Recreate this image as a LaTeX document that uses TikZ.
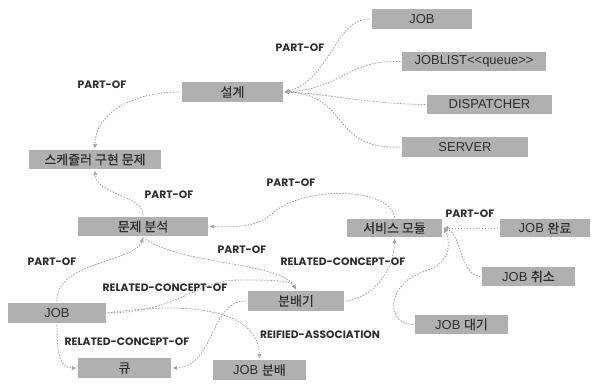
\documentclass[tikz,border=0pt]{standalone}
\usepackage{fontspec}
\setmainfont{Liberation Sans}
\newfontfamily\kr[FakeBold=0.4]{Noto Sans CJK KR}
\newfontfamily\labfont{Poppins}
\usetikzlibrary{arrows.meta,shadows}
\definecolor{boxgray}{HTML}{B0B0B0}
\definecolor{txt}{HTML}{2E2E2E}
\definecolor{conncol}{HTML}{A5A5A5}
\tikzset{
 cbox/.style={rectangle, fill=boxgray, draw=gray!35, double=white, double distance=2.2bp, line width=0.4bp, inner sep=0pt, text=txt, font=\fontsize{13}{15}\selectfont, drop shadow={shadow xshift=0.8bp, shadow yshift=-1.2bp, opacity=0.2, fill=black}},
 lab/.style={text=txt, font=\labfont\bfseries\fontsize{10.8}{12}\selectfont, inner sep=0pt},
 conn/.style={draw=conncol, line width=0.8bp, dash pattern=on 1.6bp off 1.4bp, -{Triangle[length=4.5bp,width=4bp]}},
}
\begin{document}
\begin{tikzpicture}[x=1bp,y=-1bp]
\fill[white] (0,0) rectangle (595,386);
\useasboundingbox (0,0) rectangle (595,386);
% boxes
\node[cbox, minimum width=103bp, minimum height=23bp] (jobt) at (422,19) {JOB};
\node[cbox, minimum width=147bp, minimum height=22bp] (joblist) at (474,61.5) {JOBLIST<{}<queue>{}>};
\node[cbox, minimum width=128bp, minimum height=22bp] (disp) at (489.5,104.5) {DISPATCHER};
\node[cbox, minimum width=129bp, minimum height=23bp] (server) at (465,147) {SERVER};
\node[cbox, minimum width=104bp, minimum height=23bp] (design) at (232.5,92) {\kr 설계};
\node[cbox, minimum width=135bp, minimum height=22bp] (sched) at (95,159.5) {\kr 스케쥴러 구현 문제};
\node[cbox, minimum width=133bp, minimum height=22bp] (anal) at (143,226.5) {\kr 문제 분석};
\node[cbox, minimum width=98bp, minimum height=21bp] (serv) at (394.5,228) {\kr 서비스 모듈};
\node[cbox, minimum width=93bp, minimum height=21bp] (jdone) at (545,228) {JOB {\kr 완료}};
\node[cbox, minimum width=96bp, minimum height=22bp] (jcancel) at (528.5,276.5) {JOB {\kr 취소}};
\node[cbox, minimum width=96bp, minimum height=22bp] (jwait) at (461.5,324.5) {JOB {\kr 대기}};
\node[cbox, minimum width=99bp, minimum height=23bp] (dist) at (296,301) {\kr 분배기};
\node[cbox, minimum width=101bp, minimum height=23bp] (jobb) at (57,313) {JOB};
\node[cbox, minimum width=96bp, minimum height=23bp] (queue) at (124.5,368) {\kr 큐};
\node[cbox, minimum width=96bp, minimum height=23bp] (jdist) at (259.5,370) {JOB {\kr 분배}};
% connectors
\draw[conn] (jobt.west) .. controls (335,18) and (330,80) .. (design.east);
\draw[conn] (joblist.west) .. controls (345,60) and (345,88) .. (design.east);
\draw[conn] (disp.west) .. controls (370,104) and (320,93) .. (design.east);
\draw[conn] (server.west) .. controls (330,150) and (350,95) .. (design.east);
\draw[conn] (design.west) .. controls (130,92) and (95,115) .. (sched.north);
\draw[conn] (anal.north) .. controls (143,195) and (97,195) .. (sched.south);
\draw[conn] (serv.north) .. controls (390,186) and (300,186) .. (272,214) .. controls (255,228) and (235,227) .. (anal.east);
\draw[conn] (jobb.north) .. controls (55,262) and (135,262) .. (anal.south);
\draw[conn] (anal.south) .. controls (180,265) and (280,262) .. (dist.north);
\draw[conn] (jobb.east) .. controls (180,312) and (195,280) .. (240,280) .. controls (270,280) and (290,280) .. (dist.north);
\draw[conn] (jobb.east) .. controls (195,300) and (258,312) .. (jdist.north);
\draw[conn] (dist.west) .. controls (210,300) and (215,366) .. (queue.east);
\draw[conn] (jobb.south) .. controls (57,355) and (60,368) .. (queue.west);
\draw[conn] (dist.east) .. controls (372,298) and (394,272) .. (serv.south);
\draw[conn] (jdone.west) -- (serv.east);
\draw[conn] (jcancel.west) .. controls (460,275) and (462,235) .. (serv.east);
\draw[conn] (jwait.west) .. controls (385,325) and (385,282) .. (428,270) .. controls (452,262) and (450,240) .. (serv.east);
% labels
\node[lab] (l1) at (300,48) {PART-OF};
\node[lab] (l2) at (102,85) {PART-OF};
\node[lab] (l3) at (169,195) {PART-OF};
\node[lab] (l4) at (291,183) {PART-OF};
\node[lab] (l5) at (242,250) {PART-OF};
\node[lab] (l6) at (470,214) {PART-OF};
\node[lab] (l7) at (52,262) {PART-OF};
\node[lab] (l8) at (165,288) {RELATED-CONCEPT-OF};
\node[lab] (l9) at (343,262) {RELATED-CONCEPT-OF};
\node[lab] (l10) at (127,342) {RELATED-CONCEPT-OF};
\node[lab] (l11) at (320,335) {REIFIED-ASSOCIATION};
\end{tikzpicture}
\end{document}
